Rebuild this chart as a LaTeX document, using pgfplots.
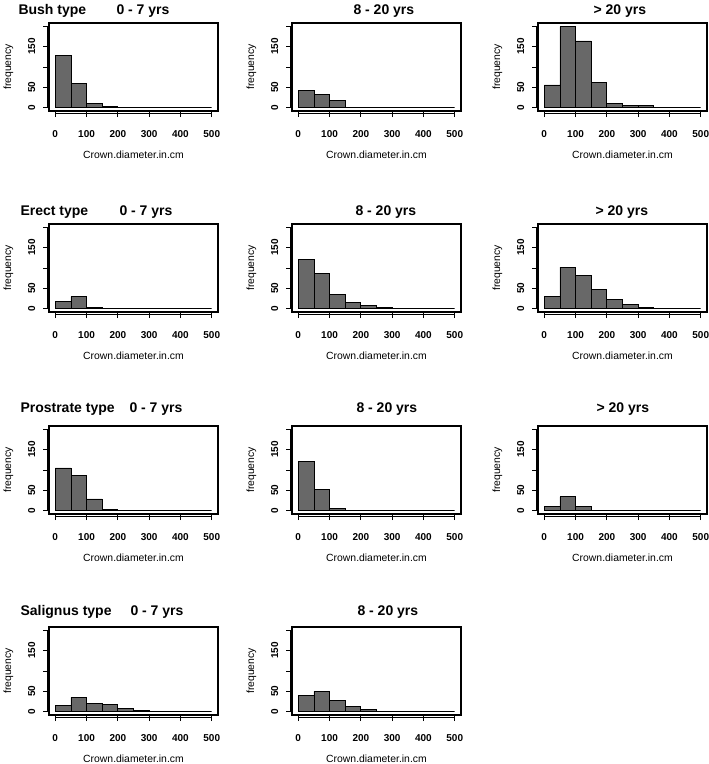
\documentclass[border=0pt]{standalone}
\usepackage{fontspec}
\setmainfont{Liberation Sans}
\usepackage{pgfplots}
\pgfplotsset{compat=1.18}
\definecolor{barfill}{RGB}{104,104,104}
\pgfplotsset{
  hist/.style={
    scale only axis, width=169bp, height=88bp, anchor=north west,
    xmin=-20, xmax=520, ymin=-8, ymax=208,
    xtick={0,100,200,300,400,500},
    ytick={0,50,100,150,200}, yticklabels={0,50,,150,},
    tick align=outside, major tick length=6bp,
    xtick pos=bottom, ytick pos=left,
    axis line style={line width=1.2bp},
    every tick/.style={black, line width=0.8bp},
    tick label style={font=\bfseries\fontsize{10bp}{12bp}\selectfont},
    /pgf/number format/assume math mode=true,
    xticklabel style={yshift=-20bp, anchor=base},
    yticklabel style={xshift=-8bp, rotate=90, anchor=base},
    xlabel={Crown.diameter.in.cm}, ylabel={frequency},
    every axis x label/.style={at={(axis description cs:0.5,0)}, anchor=base, yshift=-47bp, font=\fontsize{10.4bp}{12bp}\selectfont},
    every axis y label/.style={at={(axis description cs:0,0.5)}, xshift=-38bp, rotate=90, anchor=base, font=\fontsize{10.4bp}{12bp}\selectfont},
    clip mode=individual,
  },
  bars/.style={ybar interval, fill=barfill, draw=black, line width=0.8bp},
}
\newcommand{\axlines}{%
  \draw[line width=0.8bp] ([yshift=-2bp]axis cs:0,-8) -- ([yshift=-2bp]axis cs:500,-8);
  \draw[line width=0.8bp] ([xshift=-2bp]axis cs:-20,0) -- ([xshift=-2bp]axis cs:-20,200);
}
\begin{document}
\begin{tikzpicture}
\useasboundingbox (0,0) rectangle (709bp,-764bp);
\tikzset{ttl/.style={anchor=base west, font=\bfseries\fontsize{14bp}{16bp}\selectfont}}
% Row 1: Bush type
\node[ttl] at (15bp,-14bp) {Bush type};
\node[ttl] at (113bp,-14bp) {0 - 7 yrs};
\node[ttl] at (350bp,-14bp) {8 - 20 yrs};
\node[ttl] at (590bp,-14bp) {\textgreater{} 20 yrs};
\begin{axis}[hist, at={(49bp,-23bp)}]
\addplot[bars] coordinates {(0,129) (50,60) (100,11) (150,3) (200,0) (250,0) (300,0) (350,0) (400,0) (450,0) (500,0)};
\axlines
\end{axis}
\begin{axis}[hist, at={(292bp,-23bp)}]
\addplot[bars] coordinates {(0,43) (50,32) (100,17) (150,0) (200,0) (250,0) (300,0) (350,0) (400,0) (450,0) (500,0)};
\axlines
\end{axis}
\begin{axis}[hist, at={(538bp,-23bp)}]
\addplot[bars] coordinates {(0,56) (50,199) (100,164) (150,61) (200,10) (250,5) (300,5) (350,0) (400,0) (450,0) (500,0)};
\axlines
\end{axis}
% Row 2: Erect type
\node[ttl] at (17bp,-215bp) {Erect type};
\node[ttl] at (116bp,-215bp) {0 - 7 yrs};
\node[ttl] at (352bp,-215bp) {8 - 20 yrs};
\node[ttl] at (592bp,-215bp) {\textgreater{} 20 yrs};
\begin{axis}[hist, at={(49bp,-224bp)}]
\addplot[bars] coordinates {(0,17) (50,30) (100,3) (150,0) (200,0) (250,0) (300,0) (350,0) (400,0) (450,0) (500,0)};
\axlines
\end{axis}
\begin{axis}[hist, at={(292bp,-224bp)}]
\addplot[bars] coordinates {(0,120) (50,86) (100,36) (150,15) (200,8) (250,3) (300,0) (350,0) (400,0) (450,0) (500,0)};
\axlines
\end{axis}
\begin{axis}[hist, at={(538bp,-224bp)}]
\addplot[bars] coordinates {(0,30) (50,102) (100,81) (150,48) (200,22) (250,10) (300,3) (350,0) (400,0) (450,0) (500,0)};
\axlines
\end{axis}
% Row 3: Prostrate type
\node[ttl] at (17bp,-412bp) {Prostrate type};
\node[ttl] at (126bp,-412bp) {0 - 7 yrs};
\node[ttl] at (353bp,-412bp) {8 - 20 yrs};
\node[ttl] at (593bp,-412bp) {\textgreater{} 20 yrs};
\begin{axis}[hist, at={(49bp,-426bp)}]
\addplot[bars] coordinates {(0,105) (50,86) (100,29) (150,3) (200,0) (250,0) (300,0) (350,0) (400,0) (450,0) (500,0)};
\axlines
\end{axis}
\begin{axis}[hist, at={(292bp,-426bp)}]
\addplot[bars] coordinates {(0,120) (50,53) (100,6) (150,0) (200,0) (250,0) (300,0) (350,0) (400,0) (450,0) (500,0)};
\axlines
\end{axis}
\begin{axis}[hist, at={(538bp,-426bp)}]
\addplot[bars] coordinates {(0,11) (50,34) (100,11) (150,0) (200,0) (250,0) (300,0) (350,0) (400,0) (450,0) (500,0)};
\axlines
\end{axis}
% Row 4: Salignus type
\node[ttl] at (17bp,-615bp) {Salignus type};
\node[ttl] at (127bp,-615bp) {0 - 7 yrs};
\node[ttl] at (354bp,-615bp) {8 - 20 yrs};
\begin{axis}[hist, at={(49bp,-627bp)}]
\addplot[bars] coordinates {(0,16) (50,35) (100,20) (150,18) (200,9) (250,3) (300,0) (350,0) (400,0) (450,0) (500,0)};
\axlines
\end{axis}
\begin{axis}[hist, at={(292bp,-627bp)}]
\addplot[bars] coordinates {(0,41) (50,50) (100,27) (150,14) (200,6) (250,0) (300,0) (350,0) (400,0) (450,0) (500,0)};
\axlines
\end{axis}
\end{tikzpicture}
\end{document}
